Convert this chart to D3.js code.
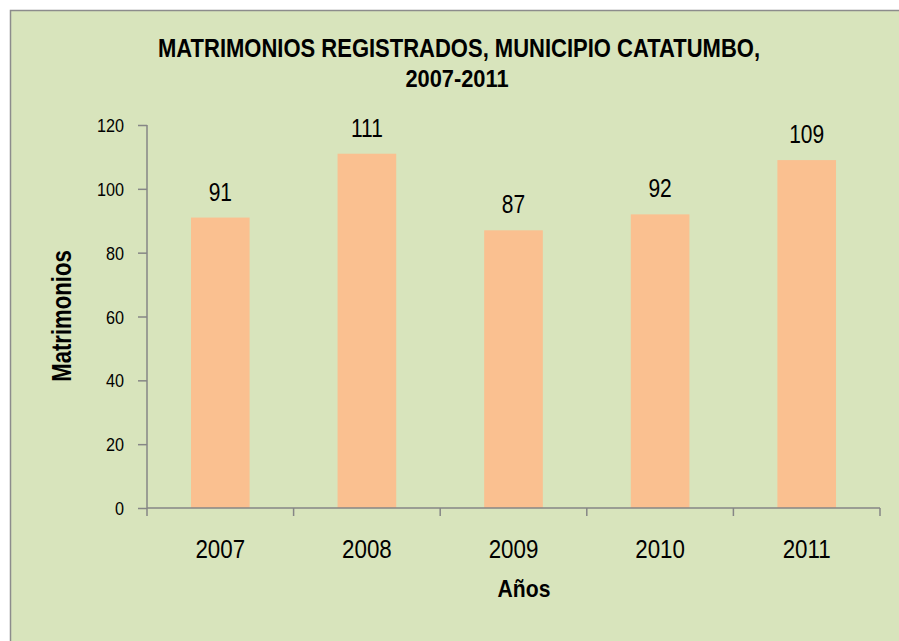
<!DOCTYPE html>
<html>
<head>
<meta charset="utf-8">
<script src="https://cdn.jsdelivr.net/npm/d3@7"></script>
<style>
  html, body { margin: 0; padding: 0; background: #ffffff; }
  svg { display: block; }
  text { font-family: "Liberation Sans Narrow", "Arial Narrow", "Liberation Sans", Arial, sans-serif; }
</style>
</head>
<body>
<script>
const years = ["2007", "2008", "2009", "2010", "2011"];
const marriages = [91, 111, 87, 92, 109];
const yTicks = [0, 20, 40, 60, 80, 100, 120];
const titleLines = ["MATRIMONIOS REGISTRADOS, MUNICIPIO CATATUMBO,", "2007-2011"];
const xTitle = "Años";
const yTitle = "Matrimonios";

const W = 899, H = 641;
const svg = d3.select("body").append("svg").attr("width", W).attr("height", H);

// chart area frame
svg.append("rect").attr("x", 10.5).attr("y", 10.5).attr("width", W).attr("height", H)
  .attr("fill", "#d8e4bc").attr("stroke", "#8c8c8c").attr("stroke-width", 1.5);

const plot = { left: 147, right: 880, top: 125, bottom: 508 };

const x = d3.scaleBand().domain(years).range([plot.left, plot.right]).padding(0);
const y = d3.scaleLinear().domain([0, 120]).range([plot.bottom, plot.top]);
const barW = x.bandwidth() * 0.4;

// condensed text helper (emulates a narrow face)
function label(g, px, py, txt, opts) {
  const o = Object.assign({ size: 20, sx: 0.85, weight: "normal", anchor: "middle", rot: 0 }, opts || {});
  return g.append("text")
    .attr("transform", `translate(${px},${py}) rotate(${o.rot}) scale(${o.sx},1)`)
    .attr("text-anchor", o.anchor)
    .attr("font-size", o.size)
    .attr("font-weight", o.weight)
    .attr("fill", "#000")
    .text(txt);
}

// bars
svg.append("g").selectAll("rect").data(years).join("rect")
  .attr("x", (d) => x(d) + (x.bandwidth() - barW) / 2)
  .attr("y", (d, i) => y(marriages[i]))
  .attr("width", barW)
  .attr("height", (d, i) => y(0) - y(marriages[i]))
  .attr("fill", "#fac090");

// y axis
const yAxis = d3.axisLeft(y).tickValues(yTicks).tickSize(9).tickFormat("");
const gy = svg.append("g").attr("transform", `translate(${plot.left},0)`).call(yAxis);
gy.select(".domain").attr("stroke", "#868686").attr("stroke-width", 1.5).attr("d", `M0,${plot.top}V${plot.bottom}`);
gy.selectAll(".tick line").attr("stroke", "#868686").attr("stroke-width", 1.5);
const gyl = svg.append("g");
yTicks.forEach((t) => label(gyl, plot.left - 23, y(t) + 7, String(t), { size: 18, sx: 0.9, anchor: "end" }));

// x axis with ticks at category boundaries
const gx = svg.append("g").attr("transform", `translate(0,${plot.bottom})`);
gx.append("path").attr("d", `M${plot.left},0H${plot.right}`).attr("stroke", "#868686").attr("stroke-width", 1.5).attr("fill", "none");
const bounds = years.map((d) => x(d)).concat([x(years[years.length - 1]) + x.bandwidth()]);
gx.selectAll("line.b").data(bounds).join("line").attr("class", "b")
  .attr("x1", (d) => d).attr("x2", (d) => d).attr("y1", 0).attr("y2", 8)
  .attr("stroke", "#868686").attr("stroke-width", 1.5);
years.forEach((d) => label(gx, x(d) + x.bandwidth() / 2, 50, d, { size: 26, sx: 0.86 }));

// data labels
const gl = svg.append("g");
years.forEach((d, i) => label(gl, x(d) + x.bandwidth() / 2, y(marriages[i]) - 17, String(marriages[i]), { size: 25, sx: 0.84 }));

// title
svg.append("text").attr("x", 459).attr("y", 57).attr("text-anchor", "middle")
  .attr("font-size", 25).attr("font-weight", "bold").attr("fill", "#000")
  .attr("textLength", 602).attr("lengthAdjust", "spacingAndGlyphs")
  .text(titleLines[0]);
label(svg, 457, 87, titleLines[1], { size: 24, sx: 0.91, weight: "bold" });

// axis titles
label(svg, 524, 597, xTitle, { size: 23, sx: 0.92, weight: "bold" });
label(svg, 71, 316, yTitle, { size: 27, sx: 0.82, weight: "bold", rot: -90 });
</script>
</body>
</html>
